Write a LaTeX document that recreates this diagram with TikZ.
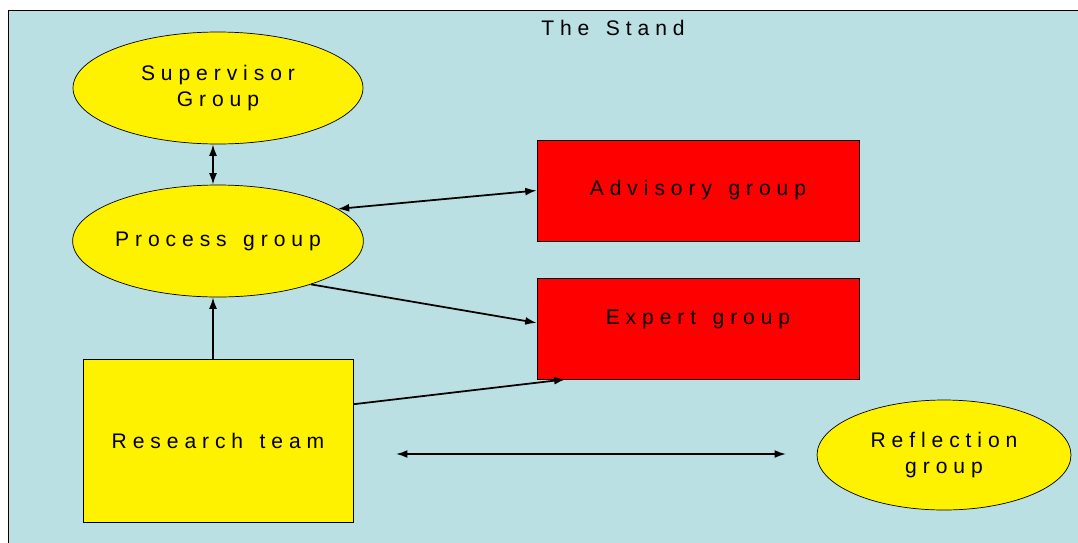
\documentclass[tikz,border=0pt]{standalone}
\usepackage{fontspec}
\setmainfont{Liberation Sans}[LetterSpace=28, WordSpace=1.4]
\usetikzlibrary{shapes, positioning, arrows.meta}

\definecolor{standblue}{RGB}{186,224,227}
\tikzset{
	grpell/.style={ellipse, draw=black, fill=yellow, minimum width=5.8cm, minimum height=2.24cm, align=center, font=\fontsize{12}{14.5}\selectfont, inner sep=0pt},
	grpbox/.style={rectangle, draw=black, minimum width=6.44cm, minimum height=2.02cm, font=\fontsize{12}{14}\selectfont},
	tip/.tip={Latex[length=6.5pt, width=4.5pt]},
	conn/.style={line width=1pt, -tip}
}

\begin{document}
\begin{tikzpicture}[x=0.02cm, y=-0.02cm]
			\clip (0,0) rectangle (1078,542);
			\fill[white] (0,0) rectangle (1078,542);
			
			% the stand
			\draw[fill=standblue] (8,10) rectangle (1100,560);
			\node[font=\fontsize{12}{14}\selectfont] (stand) at (613,28) {The Stand};
			
			% groups
			\node[grpell] (sup) at (218,88) {Supervisor\\Group};
			\node[grpell] (proc) at (218,241) {Process group};
			\node[grpbox, fill=red] (adv) at (698,190.5) {Advisory group};
			\node[grpbox, fill=red, text depth=13pt] (exp) at (698,328.5) {Expert group};
			\node[grpbox, fill=yellow, minimum width=5.4cm, minimum height=3.26cm] (res) at (218,440.5) {Research team};
			\node[grpell, minimum width=5.08cm, minimum height=2.2cm] (refl) at (944,455) {Reflection\\group};
			
			% connectors
			\draw[conn, tip-tip] ([xshift=-0.1cm]sup.south) -- ([xshift=-0.1cm]proc.north);
			\draw[conn, tip-tip] (proc.15) -- (adv.west);
			\draw[conn] (proc.-25) -- (exp.178);
			\draw[conn] ([xshift=-0.1cm]res.north) -- ([xshift=-0.1cm]proc.south);
			\draw[conn] (res.15) -- (exp.201);
			
			\coordinate (L) at (396,454);
			\coordinate (R) at (786,454);
			\draw[conn, tip-tip] (L) -- (R);
		\end{tikzpicture}
\end{document}
